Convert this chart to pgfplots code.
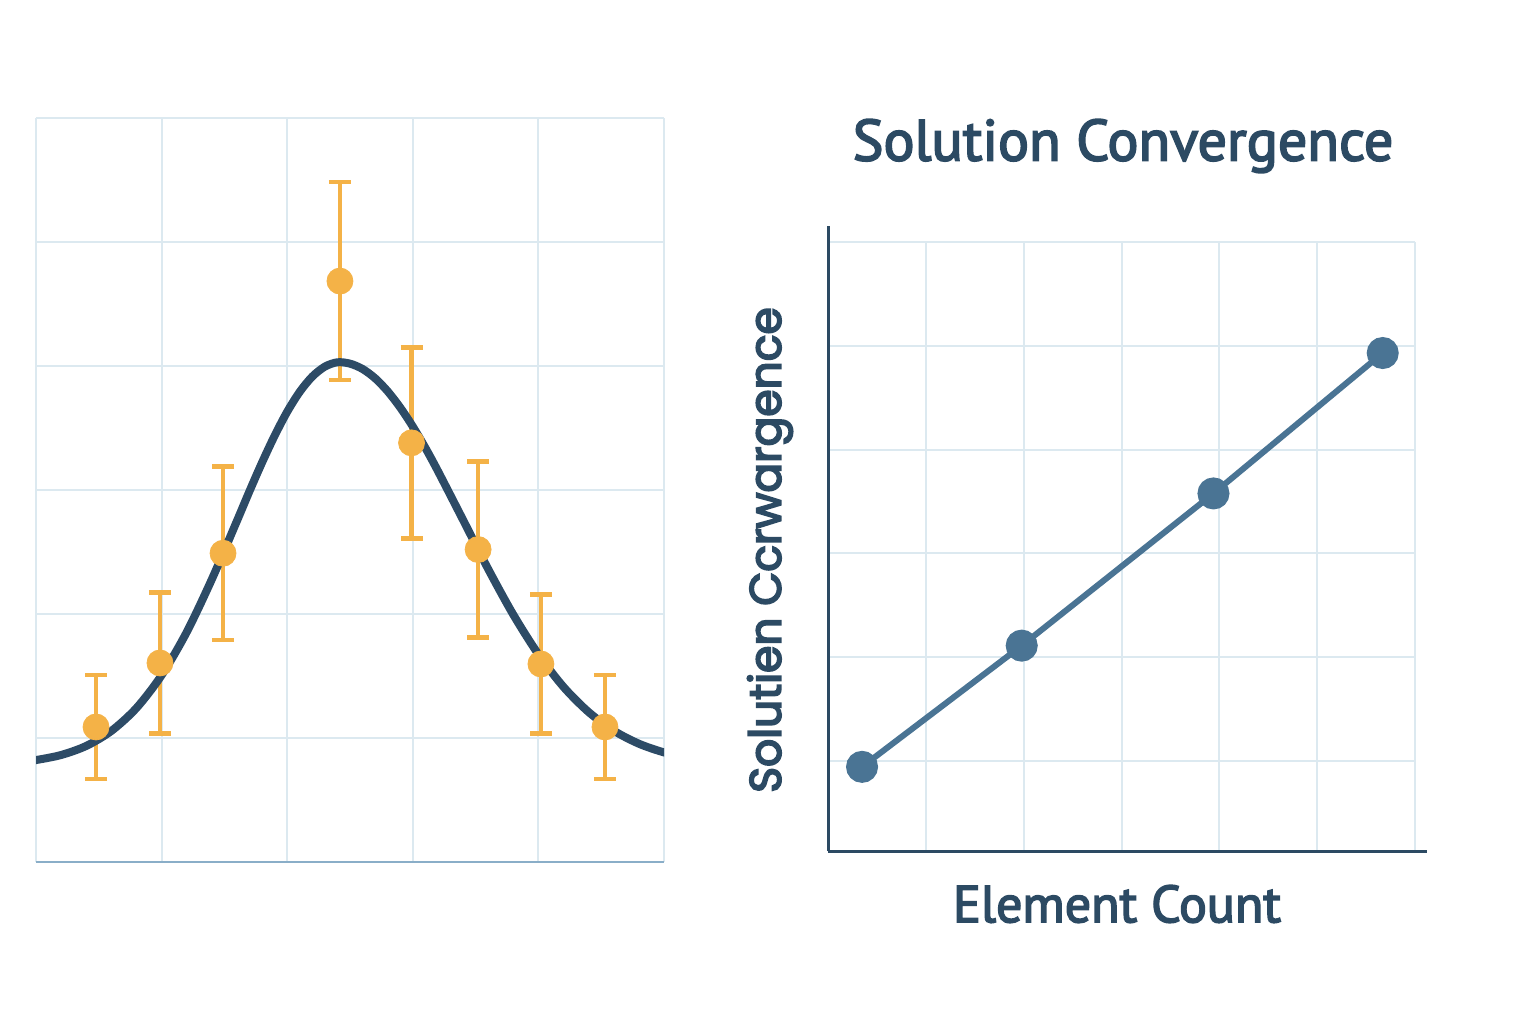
\documentclass[border=0pt]{standalone}
\usepackage{pgfplots}
\pgfplotsset{compat=1.18}
\usepackage{fontspec}
\setmainfont{PT Sans}
\newfontfamily\medfont{PT Sans}[FakeBold=3]
\newfontfamily\ylfont{Poppins}[FakeBold=4]
\definecolor{navy}{HTML}{2D4B66}
\definecolor{steel}{HTML}{4A7494}
\definecolor{orng}{HTML}{F4B247}
\definecolor{gridc}{HTML}{DCE9F0}
\definecolor{botc}{HTML}{8AAEC8}
\definecolor{txt}{HTML}{2C4A63}
\begin{document}
\begin{tikzpicture}[x=1pt,y=1pt]
\path[use as bounding box] (0,0) rectangle (768,512);
% left panel
\begin{axis}[at={(18pt,81pt)}, anchor=south west, scale only axis,
  width=314pt, height=372pt,
  xmin=0, xmax=5, ymin=0, ymax=6,
  xtick={0,...,5}, ytick={0,...,6},
  xticklabels={}, yticklabels={},
  major tick length=0pt,
  grid=major, major grid style={draw=gridc, line width=1pt},
  axis lines*=left,
  y axis line style={draw=none},
  x axis line style={draw=botc, line width=1.2pt, -},
  clip=true]
\addplot[draw=none, mark=none, forget plot,
  error bars/.cd, y dir=both, y explicit,
  error bar style={draw=orng, line width=2.2pt},
  error mark options={draw=orng, rotate=90, mark size=5.5pt, line width=2.2pt}]
  coordinates {
  (0.478,1.089) +- (0,0.42)
  (0.987,1.605) +- (0,0.57)
  (1.489,2.49) +- (0,0.70)
  (2.42,4.685) +- (0,0.80)
  (2.99,3.38) +- (0,0.77)
  (3.52,2.52) +- (0,0.71)
  (4.02,1.597) +- (0,0.56)
  (4.53,1.089) +- (0,0.42)
  };
\addplot[navy, line width=4pt, smooth, mark=none] coordinates {
  (-0.2,0.79) (0,0.822) (0.2,0.863) (0.4,0.936) (0.6,1.057) (0.8,1.242)
  (1.0,1.506) (1.2,1.854) (1.4,2.280) (1.6,2.751) (1.7,2.991) (1.8,3.222)
  (1.9,3.438) (2.0,3.631) (2.1,3.792) (2.2,3.915) (2.3,3.995) (2.4,4.030)
  (2.5,4.019) (2.6,3.976) (2.7,3.901) (2.8,3.796) (2.9,3.665)
  (3.0,3.512) (3.1,3.340) (3.2,3.153) (3.4,2.759) (3.6,2.363) (3.8,1.995)
  (4.0,1.675) (4.2,1.412) (4.4,1.209) (4.6,1.059) (4.8,0.954)
  (5.0,0.884) (5.2,0.84)
};
\addplot[orng, only marks, mark=*, mark size=6.5pt, mark options={fill=orng, draw=orng}]
  coordinates {
  (0.478,1.089) (0.987,1.605) (1.489,2.49) (2.42,4.685)
  (2.99,3.38) (3.52,2.52) (4.02,1.597) (4.53,1.089)
  };
\end{axis}
% right panel
\begin{axis}[at={(414pt,86.5pt)}, anchor=south west, scale only axis,
  width=293.5pt, height=304.5pt,
  xmin=0, xmax=6, ymin=0.131, ymax=6,
  xtick={1,...,6}, ytick={1,...,6},
  xticklabels={}, yticklabels={},
  major tick length=0pt,
  grid=major, major grid style={draw=gridc, line width=1pt},
  axis lines*=left,
  axis line style={-, draw=txt, line width=1.5pt},
  x axis line style={shorten >=-6pt},
  y axis line style={shorten >=-8pt},
  clip=false]
\addplot[steel, line width=3pt, mark=*, mark size=6.5pt,
  mark options={fill=steel, draw=steel}] coordinates {
  (0.348,0.942) (1.98,2.11) (3.94,3.577) (5.67,4.93)
};
\end{axis}
\node[text=txt, font=\medfont\fontsize{29}{35}\selectfont] at (561.5,439) {Solution Convergence};
\node[text=txt, font=\medfont\fontsize{26}{31}\selectfont] at (558.5,60) {Element Count};
\node[text=txt, rotate=90, font=\ylfont\fontsize{22}{27}\selectfont] at (385,237) {Solutien Ccrwargence};
\end{tikzpicture}
\end{document}
